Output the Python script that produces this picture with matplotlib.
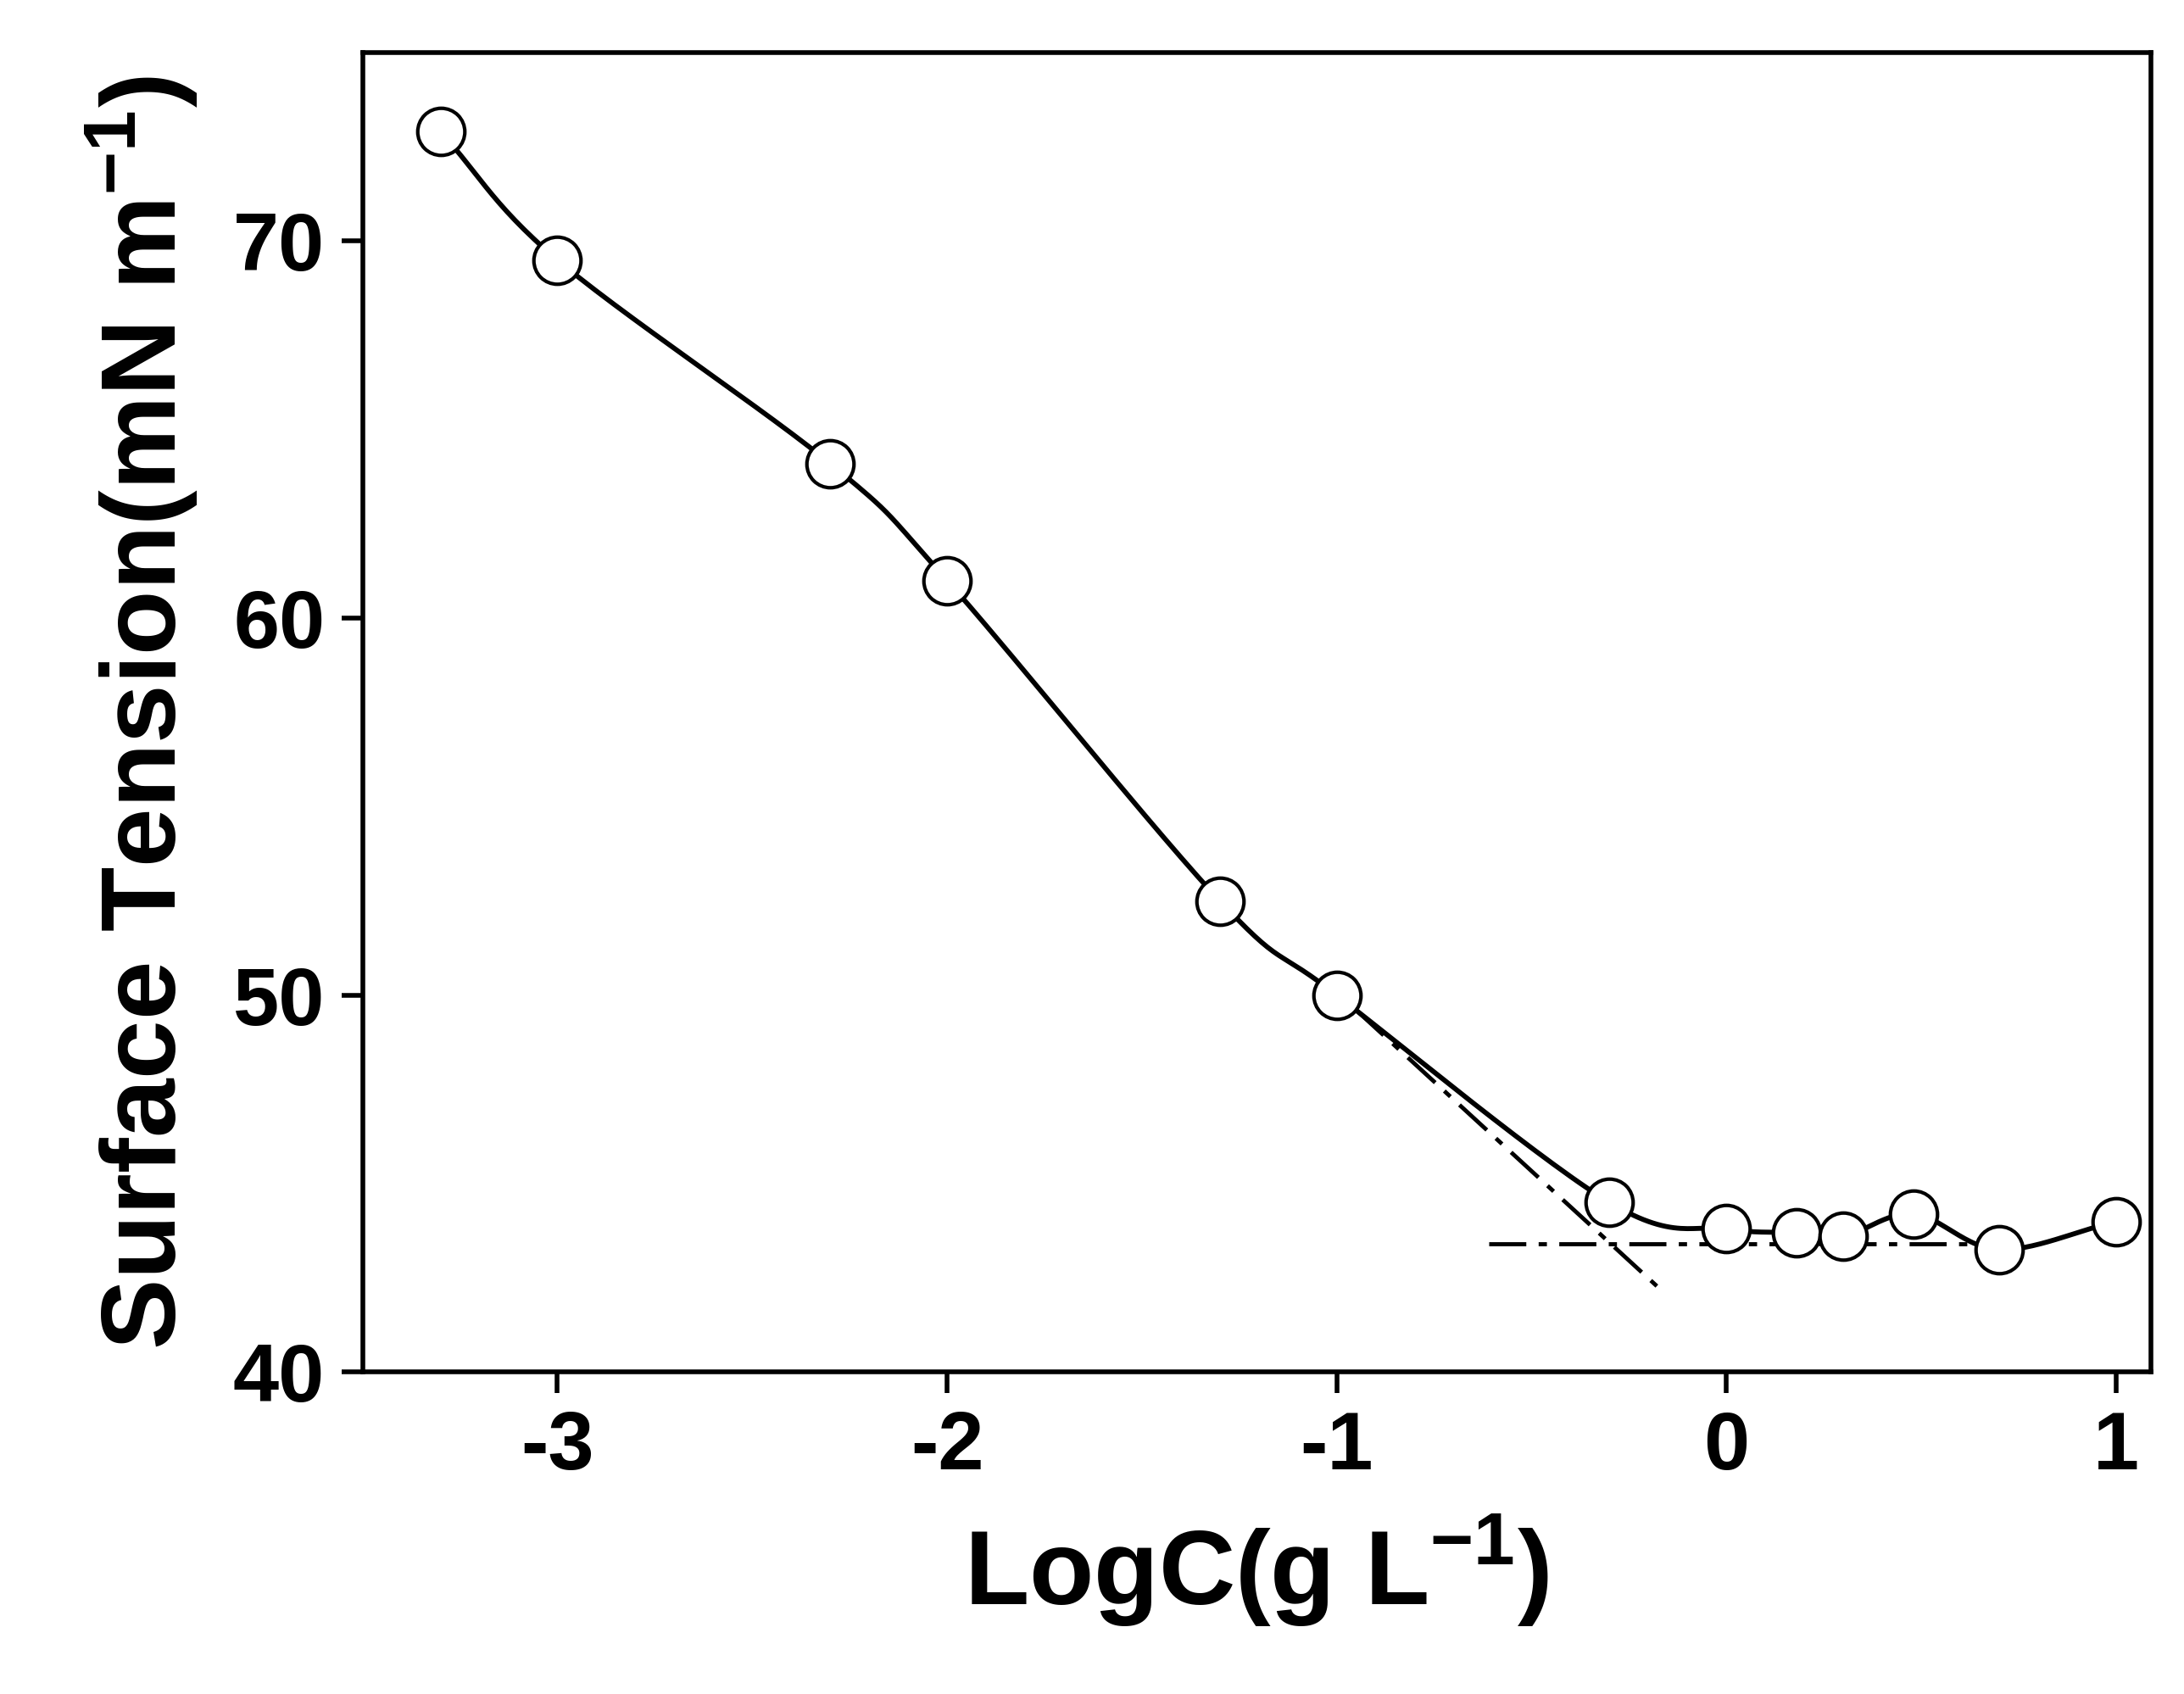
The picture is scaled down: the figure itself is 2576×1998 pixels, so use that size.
import numpy as np
import matplotlib
matplotlib.use("Agg")
import matplotlib.pyplot as plt

# Measured points
log_c = [-3.3, -3.0, -2.3, -2.0, -1.3, -1.0, -0.3, 0.0, 0.18, 0.3, 0.48, 0.7, 1.0]
tension = [72.9, 69.5, 64.1, 61.0, 52.5, 50.0, 44.5, 43.8, 43.7, 43.6, 44.2, 43.25, 44.0]

# Fit lines (dash-dot)
slope_x = [-0.95, -0.17]
slope_y = [49.6, 42.2]
plateau_x = [-0.61, 0.71]
plateau_y = [43.4, 43.4]


def catmull_rom(x, y, n=30):
    x = np.asarray(x, float)
    y = np.asarray(y, float)
    px = np.concatenate([[2 * x[0] - x[1]], x, [2 * x[-1] - x[-2]]])
    py = np.concatenate([[2 * y[0] - y[1]], y, [2 * y[-1] - y[-2]]])
    xs, ys = [], []
    t = np.linspace(0, 1, n, endpoint=False)
    for i in range(1, len(px) - 2):
        for p, out in ((px, xs), (py, ys)):
            p0, p1, p2, p3 = p[i - 1], p[i], p[i + 1], p[i + 2]
            out.extend(0.5 * (2 * p1 + (-p0 + p2) * t
                              + (2 * p0 - 5 * p1 + 4 * p2 - p3) * t ** 2
                              + (-p0 + 3 * p1 - 3 * p2 + p3) * t ** 3))
    xs.append(x[-1])
    ys.append(y[-1])
    return xs, ys


plt.rcParams["font.family"] = ["Liberation Sans", "DejaVu Sans"]
plt.rcParams["font.weight"] = "bold"
plt.rcParams["axes.unicode_minus"] = False
plt.rcParams["mathtext.fontset"] = "custom"
plt.rcParams["mathtext.bf"] = "Liberation Sans:bold"
plt.rcParams["mathtext.rm"] = "Liberation Sans:bold"

fig = plt.figure(figsize=(25.76, 19.98), dpi=100)
ax = fig.add_axes([0.166, 0.19, 0.819, 0.779])

cx, cy = catmull_rom(log_c, tension)
ax.plot(cx, cy, color="black", linewidth=4.2, zorder=2)
ax.plot(slope_x, slope_y, color="black", linewidth=3.5, linestyle=(0, (9, 3, 2, 3)), zorder=1)
ax.plot(plateau_x, plateau_y, color="black", linewidth=3.5, linestyle=(0, (9, 3, 2, 3)), zorder=1)
ax.plot(log_c, tension, linestyle="none", marker="o", markersize=40,
        markerfacecolor="white", markeredgecolor="black", markeredgewidth=3.0, zorder=3)

ax.set_xlim(-3.5, 1.09)
ax.set_ylim(40, 75)
ax.set_xticks([-3, -2, -1, 0, 1])
ax.set_xticklabels(["-3", "-2", "-1", "0", "1"])
ax.set_yticks([40, 50, 60, 70])
ax.tick_params(direction="out", length=18, width=4, labelsize=70, pad=14)
for s in ax.spines.values():
    s.set_linewidth(4)

ax.set_xlabel("LogC(g L$^{\\mathrm{-1}}$)", fontsize=90, fontweight="bold", labelpad=22)
ax.set_ylabel("Surface Tension(mN m$^{\\mathrm{-1}}$)", fontsize=90, fontweight="bold", labelpad=28)

fig.savefig("out.png", dpi=100)
